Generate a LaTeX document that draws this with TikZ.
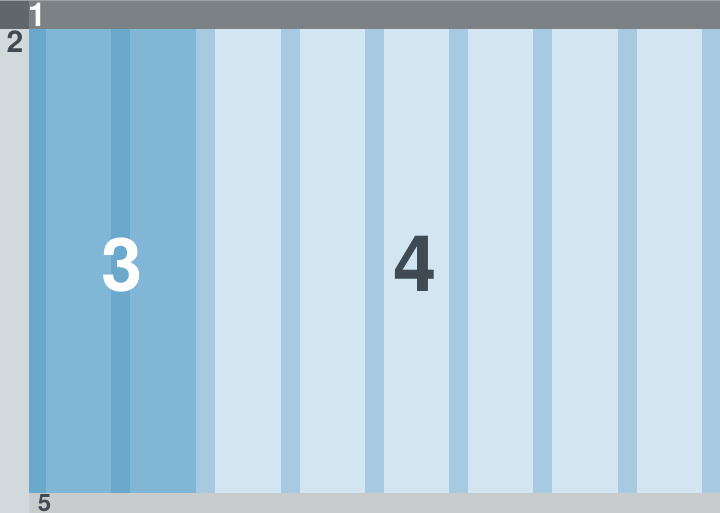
\documentclass[tikz,border=0pt]{standalone}
\usepackage{fontspec}
\setmainfont{TeX Gyre Heros}
\definecolor{barTop}{HTML}{7B8184}
\definecolor{barEdge}{HTML}{9EA2A4}
\definecolor{cornerDk}{HTML}{5F676D}
\definecolor{leftCol}{HTML}{D2D9DD}
\definecolor{botBar}{HTML}{C9CCCD}
\definecolor{txtDk}{HTML}{3F4A52}
\definecolor{midBase}{HTML}{81B6D6}
\definecolor{midStripe}{HTML}{6AA9CC}
\definecolor{lightBase}{HTML}{D2E5F0}
\definecolor{lightStripe}{HTML}{A7CAE1}
\tikzset{
  lbl/.style={inner sep=0pt, anchor=base, font=\bfseries\fontsize{#1}{#1}\selectfont},
}
\begin{document}
\begin{tikzpicture}[x=1pt,y=-1pt]
\useasboundingbox (0,0) rectangle (720,513);
% backgrounds
\fill[leftCol] (0,0) rectangle (29,513);
\fill[botBar] (29,493) rectangle (720,513);
\fill[barTop] (0,0) rectangle (720,29);
\fill[barEdge] (0,0) rectangle (720,1.2);
\fill[cornerDk] (0,1.2) rectangle (29,29);
\fill[lightBase] (29,29) rectangle (720,493);
\fill[midBase] (29,29) rectangle (196,493);
% stripes
\fill[midStripe] (29,29) rectangle (46,493);
\fill[midStripe] (111,29) rectangle (130,493);
\foreach \sx in {196,280.5,364.5,449,533,617.5,702}{
  \fill[lightStripe] (\sx,29) rectangle ({min(\sx+19,720)},493);
}
% labels
\node[lbl=33, text=white] (n1) at (37,27) {1};
\node[lbl=30, text=txtDk] (n2) at (15,53) {2};
\node[lbl=24, text=txtDk] (n5) at (44.5,511) {5};
\node[lbl=74, text=white] (n3) at (122,291) {3};
\node[lbl=78, text=txtDk] (n4) at (415,291) {4};
\end{tikzpicture}
\end{document}
